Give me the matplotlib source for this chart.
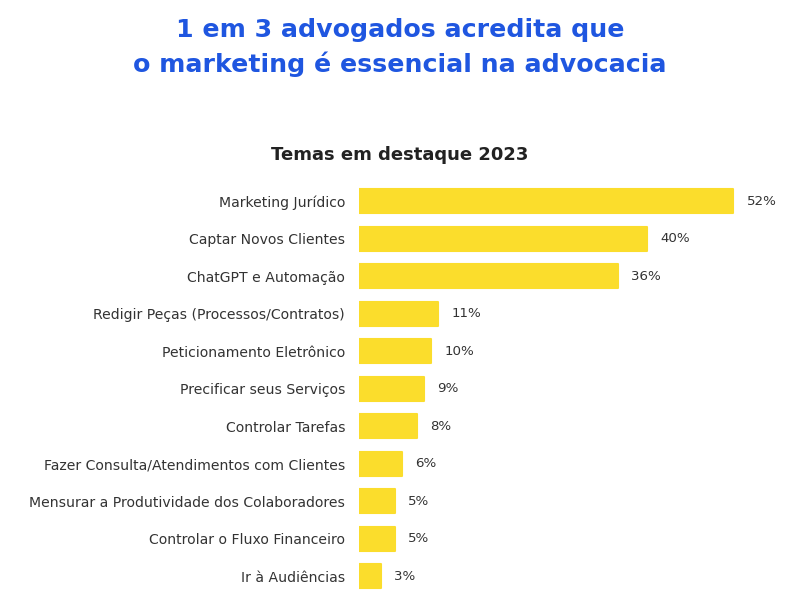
import matplotlib
matplotlib.use("Agg")
import matplotlib.pyplot as plt

categories = [
    "Marketing Jurídico",
    "Captar Novos Clientes",
    "ChatGPT e Automação",
    "Redigir Peças (Processos/Contratos)",
    "Peticionamento Eletrônico",
    "Precificar seus Serviços",
    "Controlar Tarefas",
    "Fazer Consulta/Atendimentos com Clientes",
    "Mensurar a Produtividade dos Colaboradores",
    "Controlar o Fluxo Financeiro",
    "Ir à Audiências",
]
values = [52, 40, 36, 11, 10, 9, 8, 6, 5, 5, 3]
title_lines = ["1 em 3 advogados acredita que", "o marketing é essencial na advocacia"]
subtitle = "Temas em destaque 2023"

plt.rcParams['font.family'] = ['DejaVu Sans']

fig = plt.figure(figsize=(8, 6.1), dpi=100)
ax = fig.add_axes([0.44875, 0.025, 0.54, 0.6762])

ypos = list(range(len(categories)))
ax.barh(ypos, values, height=0.64, color="#FBDD2C", edgecolor="#FBDD2C",
        linewidth=1.5, joinstyle="round")
ax.set_ylim(len(categories) - 0.5, -0.5)
ax.set_xlim(0, 60)
ax.set_yticks(ypos)
ax.set_yticklabels(categories, fontsize=10.1, color="#333333")
ax.tick_params(axis="y", length=0, pad=10)
ax.set_xticks([])
for s in ax.spines.values():
    s.set_visible(False)

for y, v in zip(ypos, values):
    ax.annotate(f"{v}%", xy=(v, y), xytext=(9.5, 0), textcoords="offset points",
                va="center", ha="left", fontsize=9.6, color="#333333")

fig.text(0.5, 1 - 30 / 610, title_lines[0], ha="center", va="center",
         fontsize=18.2, fontweight="bold", color="#1F56E0")
fig.text(0.5, 1 - 64 / 610, title_lines[1], ha="center", va="center",
         fontsize=18.2, fontweight="bold", color="#1F56E0")
fig.text(0.5, 1 - 155 / 610, subtitle, ha="center", va="center",
         fontsize=13, fontweight="bold", color="#222222")

fig.savefig("out.png", dpi=100, facecolor="white")
